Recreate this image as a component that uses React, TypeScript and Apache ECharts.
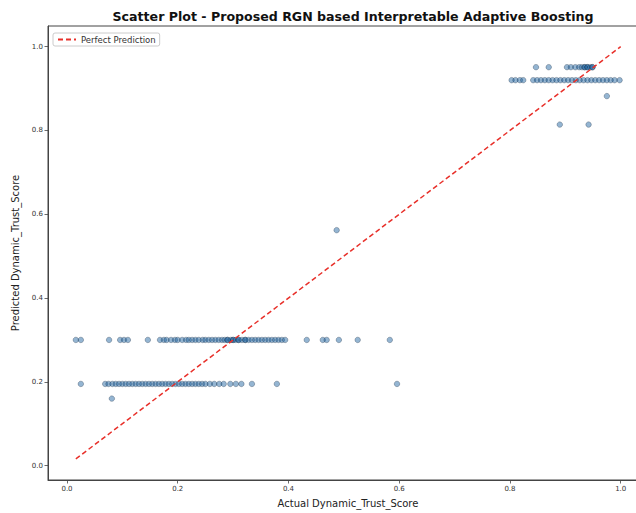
import React, { useEffect, useRef } from "react";
import * as echarts from "echarts";

// Actual values for points on the predicted ≈ 0.30 row
const actualRow030 = [
  0.016, 0.025, 0.076, 0.096, 0.103, 0.11, 0.146,
  0.168, 0.175, 0.18, 0.188, 0.195, 0.2, 0.208, 0.215, 0.22, 0.226, 0.232,
  0.238, 0.245, 0.25, 0.256, 0.262, 0.268, 0.274, 0.28, 0.285, 0.29, 0.29,
  0.296, 0.3, 0.3, 0.305, 0.31, 0.31, 0.316, 0.322, 0.322, 0.328, 0.334,
  0.34, 0.346, 0.352, 0.358, 0.364, 0.37, 0.376, 0.382, 0.388, 0.394,
  0.433, 0.462, 0.469, 0.491, 0.525, 0.583,
];
const predRow030 = 0.3;

// Actual values for points on the predicted ≈ 0.195 row
const actualRow020 = [
  0.025,
  0.069, 0.075, 0.082, 0.088, 0.094, 0.1, 0.106, 0.112, 0.118, 0.124, 0.13,
  0.136, 0.142, 0.148, 0.154, 0.16, 0.166, 0.172, 0.178, 0.184, 0.19, 0.196,
  0.202, 0.208, 0.214, 0.22, 0.226, 0.232, 0.238, 0.244, 0.25, 0.258, 0.266,
  0.275, 0.283, 0.295, 0.305, 0.315, 0.334,
  0.379, 0.596,
];
const predRow020 = 0.195;

// Actual values for points on the predicted ≈ 0.92 row
const actualRow092 = [
  0.803, 0.81, 0.818, 0.824,
  0.842, 0.849, 0.856, 0.863, 0.87, 0.877, 0.884, 0.891, 0.898, 0.905, 0.912,
  0.919, 0.926, 0.933, 0.94, 0.947, 0.954, 0.961, 0.968, 0.975, 0.982, 0.989,
  0.998,
];
const predRow092 = 0.92;

// Actual values for points on the predicted ≈ 0.951 row
const actualRow095 = [
  0.847, 0.87, 0.903, 0.91, 0.918, 0.925, 0.93, 0.935, 0.935, 0.94, 0.94,
  0.945, 0.949, 0.949,
];
const predRow095 = 0.951;

// Isolated points
const otherActual = [0.081, 0.487, 0.975, 0.89, 0.942];
const otherPredicted = [0.16, 0.562, 0.882, 0.814, 0.814];

// Perfect prediction line endpoints
const idealLine = [0.016, 1.0];

const tickValues = [0, 0.2, 0.4, 0.6, 0.8, 1.0];

export default function App() {
  const ref = useRef<HTMLDivElement>(null);

  useEffect(() => {
    document.body.style.margin = "0";
    if (!ref.current) return;
    const chart = echarts.init(ref.current, undefined, { renderer: "svg" });

    const points: number[][] = [];
    actualRow030.forEach((x) => points.push([x, predRow030]));
    actualRow020.forEach((x) => points.push([x, predRow020]));
    actualRow092.forEach((x) => points.push([x, predRow092]));
    actualRow095.forEach((x) => points.push([x, predRow095]));
    otherActual.forEach((x, i) => points.push([x, otherPredicted[i]]));

    const font = "DejaVu Sans";
    const axisCommon = {
      type: "value" as const,
      min: -0.0343,
      max: 1.0493,
      splitLine: { show: false },
      axisLine: { show: true, onZero: false, lineStyle: { color: "#444", width: 1 } },
      axisTick: {
        show: true,
        length: 3.5,
        customValues: tickValues,
        lineStyle: { color: "#444", width: 0.8 },
      },
      axisLabel: {
        customValues: tickValues,
        formatter: (v: number) => v.toFixed(1),
        fontSize: 7,
        fontFamily: font,
        color: "#333",
        margin: 5,
      },
      nameLocation: "middle" as const,
      nameTextStyle: { fontSize: 10, fontFamily: font, color: "#222" },
    };

    chart.setOption({
      animation: false,
      backgroundColor: "#fff",
      title: {
        text: "Scatter Plot - Proposed RGN based Interpretable Adaptive Boosting",
        left: 348,
        top: 5,
        textAlign: "center",
        textStyle: { fontSize: 12.6, fontWeight: "bold", fontFamily: font, color: "#111" },
      },
      legend: {
        left: 53,
        top: 33,
        orient: "vertical",
        data: ["Perfect Prediction"],
        itemWidth: 18,
        itemHeight: 6,
        itemGap: 4,
        padding: [2, 4, 2, 4],
        borderColor: "#ccc",
        borderWidth: 1,
        borderRadius: 2,
        backgroundColor: "rgba(255,255,255,0.8)",
        itemStyle: { opacity: 0 },
        textStyle: { fontSize: 8.5, fontFamily: font, color: "#333" },
      },
      grid: { left: 48, top: 26, right: 2, bottom: 32, show: true, borderColor: "#444", borderWidth: 1 },
      xAxis: { ...axisCommon, name: "Actual Dynamic_Trust_Score", nameGap: 18 },
      yAxis: { ...axisCommon, name: "Predicted Dynamic_Trust_Score", nameGap: 25 },
      series: [
        {
          type: "scatter",
          name: "points",
          data: points,
          symbolSize: 5.5,
          itemStyle: {
            color: "rgba(31,100,160,0.6)",
            borderColor: "rgba(10,30,50,0.6)",
            borderWidth: 0.6,
          },
          z: 2,
        },
        {
          type: "line",
          name: "Perfect Prediction",
          data: [
            [idealLine[0], idealLine[0]],
            [idealLine[1], idealLine[1]],
          ],
          symbol: "none",
          lineStyle: { color: "#e8302a", width: 1.5, type: [5, 3] },
          itemStyle: { color: "#e8302a" },
          z: 3,
        },
      ],
    });

    return () => chart.dispose();
  }, []);

  return (
    <div style={{ width: 636, height: 513, overflow: "hidden", position: "relative" }}>
      <div ref={ref} style={{ width: 650, height: 513 }} />
    </div>
  );
}
